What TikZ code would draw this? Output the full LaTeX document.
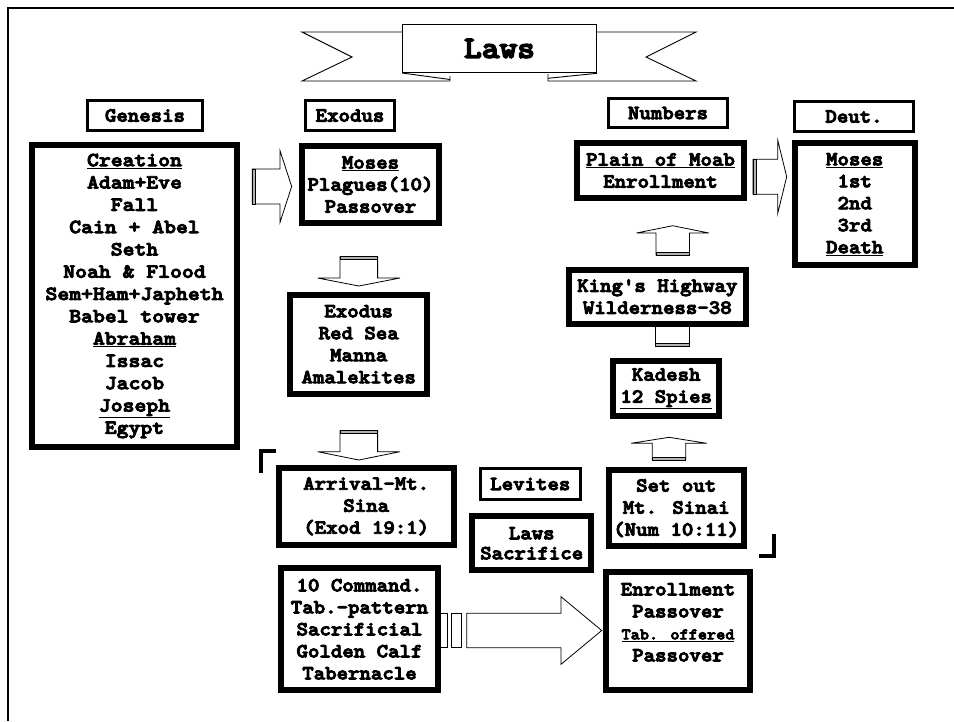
\documentclass[tikz,border=0pt]{standalone}
\usepackage{fontspec}
\newfontfamily\lawfont{lmmonolt10-bold}[Extension=.otf, FakeStretch=1.09, FakeBold=4.5]
\newfontfamily\genfont{lmmonolt10-bold}[Extension=.otf, FakeStretch=1.13, FakeBold=4.5]
\newcommand\arrR[6]{%
 \draw[arr] (#1,#4-#5) -- (#2,#4-#5) -- (#2,#4-#6) -- (#3,#4) -- (#2,#4+#6) -- (#2,#4+#5) -- (#1,#4+#5) -- cycle;
 \draw[stripe] (#1,#4-#5) rectangle (#1+3,#4+#5);}
\newcommand\arrD[6]{%
 \draw[arr] (#4-#5,#1) -- (#4-#5,#2) -- (#4-#6,#2) -- (#4,#3) -- (#4+#6,#2) -- (#4+#5,#2) -- (#4+#5,#1) -- cycle;
 \draw[stripe] (#4-#5,#1) rectangle (#4+#5,#1+3);}
\newcommand\arrU[6]{%
 \draw[arr] (#4-#5,#1) -- (#4-#5,#2) -- (#4-#6,#2) -- (#4,#3) -- (#4+#6,#2) -- (#4+#5,#2) -- (#4+#5,#1) -- cycle;
 \draw[stripe] (#4-#5,#1-3) rectangle (#4+#5,#1);}
\begin{document}
\begin{tikzpicture}[x=1pt,y=-1pt,
  txt/.style={font=\lawfont\fontsize{20}{22}\selectfont, align=center, inner sep=0pt},
  thick box/.style={txt, draw, line width=6pt, fill=white},
  thin box/.style={txt, draw, line width=3pt, fill=white},
  arr/.style={draw, line width=0.8pt, fill=white, line join=miter},
  stripe/.style={draw, line width=0.8pt, fill=gray!60},
  bracket/.style={line width=4.5pt, line join=miter}]
\useasboundingbox (0,0) rectangle (954,721);
\fill[white] (0,0) rectangle (954,721);
% frame
\draw[line width=1.8pt] (8,721) -- (8,8) -- (954,8);
% banner
\draw[line width=0.9pt, line join=miter] (402,32) -- (302,32) -- (352,57) -- (302,81) -- (450,81) -- (450,76);
\draw[line width=0.9pt] (402,73) -- (450,79.5);
\draw[line width=0.9pt, line join=miter] (597,32) -- (696,32) -- (646,57) -- (696,81) -- (548,81) -- (548,74);
\draw[line width=0.9pt] (548,78.3) -- (597,73.3);
\node[txt, draw, line width=1.2pt, fill=white, minimum width=193.8pt, minimum height=47.8pt,
      font=\lawfont\fontsize{31}{33}\selectfont] (title) at (499.5,48.5) {Laws};
% block arrows
\arrR{252.3}{280}{291.7}{186.5}{17.5}{35.8}
\arrR{753}{777.7}{786.7}{176.8}{17.5}{36.7}
\arrD{256.7}{278}{286}{358.8}{18.8}{41.2}
\arrD{430.7}{451.7}{460}{358.8}{18.8}{41.2}
\arrU{255}{233}{225.7}{672.7}{16.7}{36.2}
\arrU{460}{443.3}{437.3}{669}{16.7}{37.9}
\draw[arr] (655.7,346.7) rectangle (689.3,320);
\draw[stripe] (655.7,343.7) rectangle (689.3,346.7);
% big striped arrow
\draw[arr] (438,613.3) rectangle (447.3,647.7);
\draw[arr] (451.7,613.3) rectangle (461.7,647.7);
\draw[arr] (466.7,613.3) -- (561,613.3) -- (561,596.7) -- (601.7,630.5) -- (561,664.3) -- (561,647.7) -- (466.7,647.7) -- cycle;
% brackets
\draw[bracket] (261,473) -- (261,451) -- (276,451);
\draw[bracket] (774.2,534) -- (774.2,555.8) -- (759.3,555.8);
% headers
\node[thin box, minimum width=115pt, minimum height=30pt] (genH) at (145,115.5) {Genesis};
\node[thin box, minimum width=89pt, minimum height=30pt] (exH) at (350,115.5) {Exodus};
\node[thin box, minimum width=119pt, minimum height=29pt] (numH) at (668,113) {Numbers};
\node[thin box, minimum width=119pt, minimum height=30pt] (deutH) at (854,116.5) {Deut.};
% main boxes
\node[thick box, minimum width=205pt, minimum height=302pt, font=\genfont\fontsize{20}{22.3}\selectfont] (gen) at (134.5,296)
 {\underline{Creation}\\Adam+Eve\\Fall\\Cain + Abel\\Seth\\Noah \& Flood\\Sem+Ham+Japheth\\Babel tower\\\underline{Abraham}\\Issac\\Jacob\\\underline{Joseph}\\Egypt};
\node[thick box, minimum width=137pt, minimum height=77pt] (moses) at (370.5,184.5)
 {\underline{Moses}\\Plagues(10)\\Passover};
\node[thick box, minimum width=136.7pt, minimum height=99pt] (exod) at (358.7,344.2)
 {Exodus\\Red Sea\\Manna\\Amalekites};
\node[thick box, minimum width=175pt, minimum height=76.7pt] (arrival) at (366.2,506.3)
 {Arrival-Mt.\\Sina\\(Exod 19:1)};
\node[thin box, minimum width=99.7pt, minimum height=30.4pt] (levites) at (530.3,484) {Levites};
\node[thick box, minimum width=119.3pt, minimum height=54pt, font=\lawfont\fontsize{20}{20}\selectfont] (lawsac) at (531.7,543.3)
 {Laws\\Sacrifice};
\node[thick box, minimum width=156.4pt, minimum height=122.3pt] (tencmd) at (359.5,629.2)
 {10 Command.\\Tab.-pattern\\Sacrificial\\Golden Calf\\Tabernacle};
\node[thick box, minimum width=135pt, minimum height=75.7pt] (setout) at (676.2,508.2)
 {Set out\\Mt. Sinai\\(Num 10:11)};
\node[thick box, minimum width=143.4pt, minimum height=118pt] (enroll) at (678,631.3) {};
\node[txt] (enrollT) at ([yshift=9pt]enroll.center)
 {Enrollment\\Passover\\{\fontsize{16}{21}\selectfont\underline{Tab. offered}}\\Passover};
\node[thick box, minimum width=106.3pt, minimum height=54.7pt] (kadesh) at (666.2,388.7)
 {Kadesh\\\underline{12 Spies}};
\node[thick box, minimum width=177.3pt, minimum height=54pt] (kings) at (657.3,296.7)
 {King's Highway\\Wilderness-38};
\node[thick box, minimum width=166.4pt, minimum height=55pt] (plain) at (660.5,170.5)
 {\underline{Plain of Moab}\\Enrollment};
\node[thick box, minimum width=120pt, minimum height=122.3pt] (deut) at (854.7,204.2)
 {\underline{Moses}\\1st\\2nd\\3rd\\\underline{Death}};
\end{tikzpicture}
\end{document}
